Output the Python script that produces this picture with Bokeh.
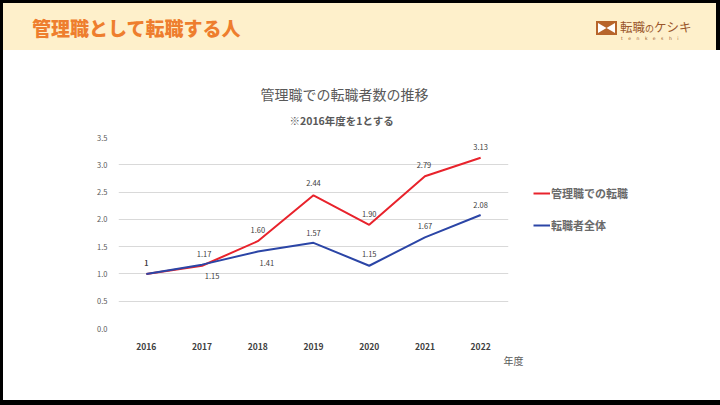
from bokeh.plotting import figure
from bokeh.models import (ColumnDataSource, LabelSet, Legend, LegendItem, Title,
                          FactorRange, Range1d, FixedTicker, NumeralTickFormatter, Div)
from bokeh.core.properties import value
from bokeh.layouts import column, row
from bokeh.embed import file_html
from bokeh.resources import INLINE

# ---- data ----
years = ["2016", "2017", "2018", "2019", "2020", "2021", "2022"]
manager = [1.00, 1.15, 1.60, 2.44, 1.90, 2.79, 3.13]
overall = [1.00, 1.17, 1.41, 1.57, 1.15, 1.67, 2.08]
manager_text = ["1", "1.15", "1.60", "2.44", "1.90", "2.79", "3.13"]
overall_text = ["1", "1.17", "1.41", "1.57", "1.15", "1.67", "2.08"]
y_ticks = [0.0, 0.5, 1.0, 1.5, 2.0, 2.5, 3.0, 3.5]
series_names = ["管理職での転職", "転職者全体"]

# ---- label placement (styles) ----
manager_dx = [0, 10, 0, 0, 0, -1, 0]
manager_dy = [11, -10, 11, 12, 11, 11, 11]
overall_dx = [0, 2, 9, 0, 0, 0, 0]
overall_dy = [11, 11, -11, 10, 12, 11, 10]

FONT = "Noto Sans CJK JP"
RED = "#E8232C"
BLUE = "#2B45A6"
BLACK = "#000000"

header_html = (
    '<div style="position:relative;width:720px;height:50px;background:#000;overflow:hidden;">'
    '<div style="position:absolute;left:3px;top:3px;width:713px;height:47px;background:#FEF0CB;"></div>'
    f'<span style="position:absolute;left:32px;top:14px;font-family:\'{FONT}\';font-weight:900;'
    'font-size:19px;line-height:28px;color:#EE7E2E;white-space:nowrap;">管理職として転職する人</span>'
    '<svg style="position:absolute;left:596px;top:21px;" width="21" height="14" viewBox="0 0 21 14">'
    '<rect x="0" y="0" width="21" height="14" fill="#B7652B"/>'
    '<polygon points="2,2 10.5,7 2,12" fill="#FFFFFF"/>'
    '<polygon points="19,2 10.5,7 19,12" fill="#FFFFFF"/></svg>'
    f'<span style="position:absolute;left:620px;top:19px;font-family:\'{FONT}\';'
    'font-size:12.5px;line-height:16px;color:#9A562A;white-space:nowrap;">転職<span style="font-size:9px;">の</span>ケシキ</span>'
    '<span style="position:absolute;left:621px;top:36px;font-family:\'DejaVu Sans\';font-size:4.5px;'
    'letter-spacing:5.5px;line-height:6px;color:#9A562A;white-space:nowrap;">tenkeshi</span>'
    '</div>'
)
header = Div(text=header_html, width=720, height=50, margin=0)

p = figure(frame_width=390, frame_height=191, x_range=FactorRange(*years, range_padding=0),
           y_range=Range1d(0, 3.5), output_backend="svg", toolbar_location=None,
           min_border_left=115, min_border_right=208, min_border_top=87, min_border_bottom=72)
p.outline_line_color = None
p.background_fill_color = "white"
p.border_fill_color = "white"
p.xgrid.grid_line_color = None
p.ygrid.grid_line_color = "#D9D9D9"
p.ygrid.grid_line_width = 1

p.yaxis.ticker = FixedTicker(ticks=y_ticks)
p.yaxis.formatter = NumeralTickFormatter(format="0.0")
for ax in (p.xaxis[0], p.yaxis[0]):
    ax.axis_line_color = None
    ax.major_tick_line_color = None
    ax.minor_tick_line_color = None
    ax.major_tick_out = 0
    ax.major_tick_in = 0
    ax.minor_tick_out = 0
    ax.minor_tick_in = 0
    ax.major_label_text_font = FONT
p.yaxis.major_label_text_font_size = "7.5px"
p.yaxis.major_label_text_color = "#595959"
p.yaxis.major_label_standoff = 11
p.xaxis.major_label_text_font_size = "8.5px"
p.xaxis.major_label_text_color = "#404040"
p.xaxis.major_label_text_font_style = "bold"
p.xaxis.major_label_standoff = 14

src = ColumnDataSource(dict(year=years, manager=manager, overall=overall,
                            mt=manager_text, ot=overall_text,
                            mdx=manager_dx, mdy=manager_dy, odx=overall_dx, ody=overall_dy))

r_m = p.line("year", "manager", source=src, line_color=RED, line_width=2)
r_o = p.line("year", "overall", source=src, line_color=BLUE, line_width=2)

for ycol, tcol, dx, dy in (("manager", "mt", "mdx", "mdy"), ("overall", "ot", "odx", "ody")):
    p.add_layout(LabelSet(x="year", y=ycol, text=tcol, source=src, x_offset=dx, y_offset=dy,
                          text_align="center", text_baseline="middle", text_font=value(FONT),
                          text_font_size="7.5px", text_color="#404040"))

# titles (subtitle first: closest to the frame)
p.add_layout(Title(text="※2016年度を1とする", align="left", offset=171,
                   text_font=FONT, text_font_size="10.5px", text_font_style="bold",
                   text_color="#595959", standoff=20), "above")
p.add_layout(Title(text="管理職での転職者数の推移", align="left", offset=142,
                   text_font=FONT, text_font_size="14px", text_font_style="normal",
                   text_color="#595959", standoff=-6), "above")
p.add_layout(Title(text="年度", align="right", offset=-15,
                   text_font=FONT, text_font_size="10px", text_font_style="normal",
                   text_color="#595959", standoff=-3), "below")

legend = Legend(items=[LegendItem(label=series_names[0], renderers=[r_m]),
                       LegendItem(label=series_names[1], renderers=[r_o])],
                location=(25, 95), orientation="vertical", margin=0, padding=0,
                glyph_width=17, glyph_height=14, label_height=14, spacing=16,
                label_standoff=1, label_text_font=FONT, label_text_font_size="11px",
                label_text_font_style="bold", label_text_color="#6A6A6A",
                border_line_color=None, background_fill_alpha=0)
p.add_layout(legend, "right")

left_bar = Div(width=3, height=350, margin=0, styles={"background-color": BLACK})
right_bar = Div(width=4, height=350, margin=0, styles={"background-color": BLACK})
bottom_bar = Div(width=720, height=5, margin=0, styles={"background-color": BLACK})

layout = column(header, row(left_bar, p, right_bar, spacing=0), bottom_bar, spacing=0)
open("out.html", "w").write(file_html(layout, INLINE))
